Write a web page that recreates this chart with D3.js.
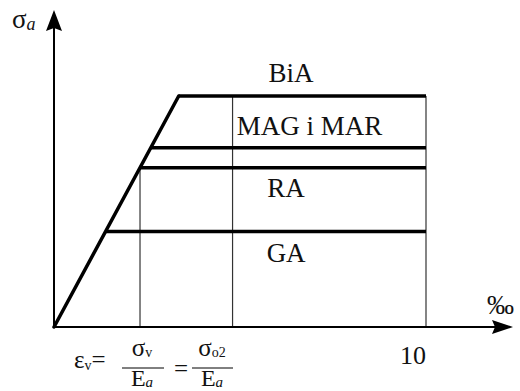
<!DOCTYPE html>
<html>
<head>
<meta charset="utf-8">
<script src="https://cdn.jsdelivr.net/npm/d3@7"></script>
<style>
  html, body { margin: 0; padding: 0; background: #fff; }
  svg text { font-family: "Liberation Serif", "Times New Roman", serif; fill: #111; }
</style>
</head>
<body>
<svg id="chart" width="520" height="391"></svg>
<script>
// Steel grades and their yield levels (schematic stress units)
const grades = ["GA", "RA", "MAG i MAR", "BiA"];
const yieldStress = [240, 400, 450, 580];
// Grade labels, placed in the bands between the plateaus
const labelText = ["BiA", "MAG i MAR", "RA", "GA"];
const labelStress = [640, 505, 351, 188];
const labelStrain = [6.37, 6.87, 6.24, 6.24];
// Elastic modulus (stress units per ‰)
const modulus = 173;
// Strain marks on the axis (‰)
const strainLimit = 10;
const strainO2 = 4.8;
const xTicks = [10];

const svg = d3.select("#chart");
const x = d3.scaleLinear().domain([0, 10]).range([54, 426]);
const y = d3.scaleLinear().domain([0, 580]).range([327, 96]);

// Thin reference verticals
const epsV = yieldStress[1] / modulus;
const verticals = [
  { e: epsV, top: yieldStress[1] },
  { e: strainO2, top: yieldStress[3] },
  { e: strainLimit, top: yieldStress[3] }
];
svg.selectAll("line.v").data(verticals).join("line")
  .attr("class", "v")
  .attr("x1", d => x(d.e)).attr("x2", d => x(d.e))
  .attr("y1", y(0)).attr("y2", d => y(d.top))
  .attr("stroke", "#333").attr("stroke-width", 1.2);

// Elastic branch up to the highest plateau
svg.append("line")
  .attr("x1", x(0)).attr("y1", y(0))
  .attr("x2", x(yieldStress[3] / modulus)).attr("y2", y(yieldStress[3]))
  .attr("stroke", "#000").attr("stroke-width", 3.5).attr("stroke-linecap", "round");

// Yield plateaus
svg.selectAll("line.p").data(yieldStress).join("line")
  .attr("class", "p")
  .attr("x1", d => x(d / modulus)).attr("x2", x(strainLimit))
  .attr("y1", d => y(d)).attr("y2", d => y(d))
  .attr("stroke", "#000").attr("stroke-width", 3.5);

// Axes with arrowheads
svg.append("line").attr("x1", x(0)).attr("y1", y(0)).attr("x2", x(0)).attr("y2", 28)
  .attr("stroke", "#000").attr("stroke-width", 2);
svg.append("path").attr("d", `M${x(0)},10 L${x(0) + 8},31 L${x(0)},28 L${x(0) - 8},31 Z`).attr("fill", "#000");
svg.append("line").attr("x1", x(0) - 1).attr("y1", y(0)).attr("x2", 496).attr("y2", y(0))
  .attr("stroke", "#000").attr("stroke-width", 2);
svg.append("path").attr("d", `M513,${y(0)} L492,${y(0) - 7} L495,${y(0)} L492,${y(0) + 7} Z`).attr("fill", "#000");

// Tick label
svg.selectAll("text.tick").data(xTicks).join("text")
  .attr("class", "tick")
  .attr("x", d => x(d) - 13).attr("y", 364)
  .attr("text-anchor", "middle").attr("font-size", 26)
  .text(d => d);

// Unit label and axis title
svg.append("text").attr("x", 487).attr("y", 314).attr("font-size", 27).text("‰");
const sig = svg.append("text").attr("x", 12).attr("y", 28).attr("font-size", 27);
sig.append("tspan").text("σ");
sig.append("tspan").attr("font-size", 18).attr("font-style", "italic").attr("dy", 2).text("a");

// Grade labels
svg.selectAll("text.grade").data(labelText).join("text")
  .attr("class", "grade")
  .attr("x", (d, i) => x(labelStrain[i]))
  .attr("y", (d, i) => y(labelStress[i]))
  .attr("dy", "0.35em")
  .attr("text-anchor", "middle").attr("font-size", 27)
  .text(d => d);

// Yield strain formula under the axis
const f = svg.append("g");
const eps = f.append("text").attr("x", 74).attr("y", 368).attr("font-size", 25);
eps.append("tspan").text("ε");
eps.append("tspan").attr("font-size", 14).attr("dy", 2).text("v");
eps.append("tspan").attr("dy", -2).text("=");
function frac(cx, num, sub) {
  const t = f.append("text").attr("x", cx).attr("y", 356).attr("text-anchor", "middle").attr("font-size", 25);
  t.append("tspan").text(num);
  t.append("tspan").attr("font-size", 14).attr("dy", 1).text(sub);
  const d = f.append("text").attr("x", cx).attr("y", 386).attr("text-anchor", "middle").attr("font-size", 24);
  d.append("tspan").text("E");
  d.append("tspan").attr("font-size", 15).attr("font-style", "italic").attr("dy", 1).text("a");
}
f.append("line").attr("x1", 122).attr("x2", 164).attr("y1", 368).attr("y2", 368).attr("stroke", "#000").attr("stroke-width", 1);
frac(142, "σ", "v");
f.append("text").attr("x", 181).attr("y", 377).attr("text-anchor", "middle").attr("font-size", 25).text("=");
f.append("line").attr("x1", 192).attr("x2", 233).attr("y1", 368).attr("y2", 368).attr("stroke", "#000").attr("stroke-width", 1);
frac(212, "σ", "o2");
</script>
</body>
</html>
